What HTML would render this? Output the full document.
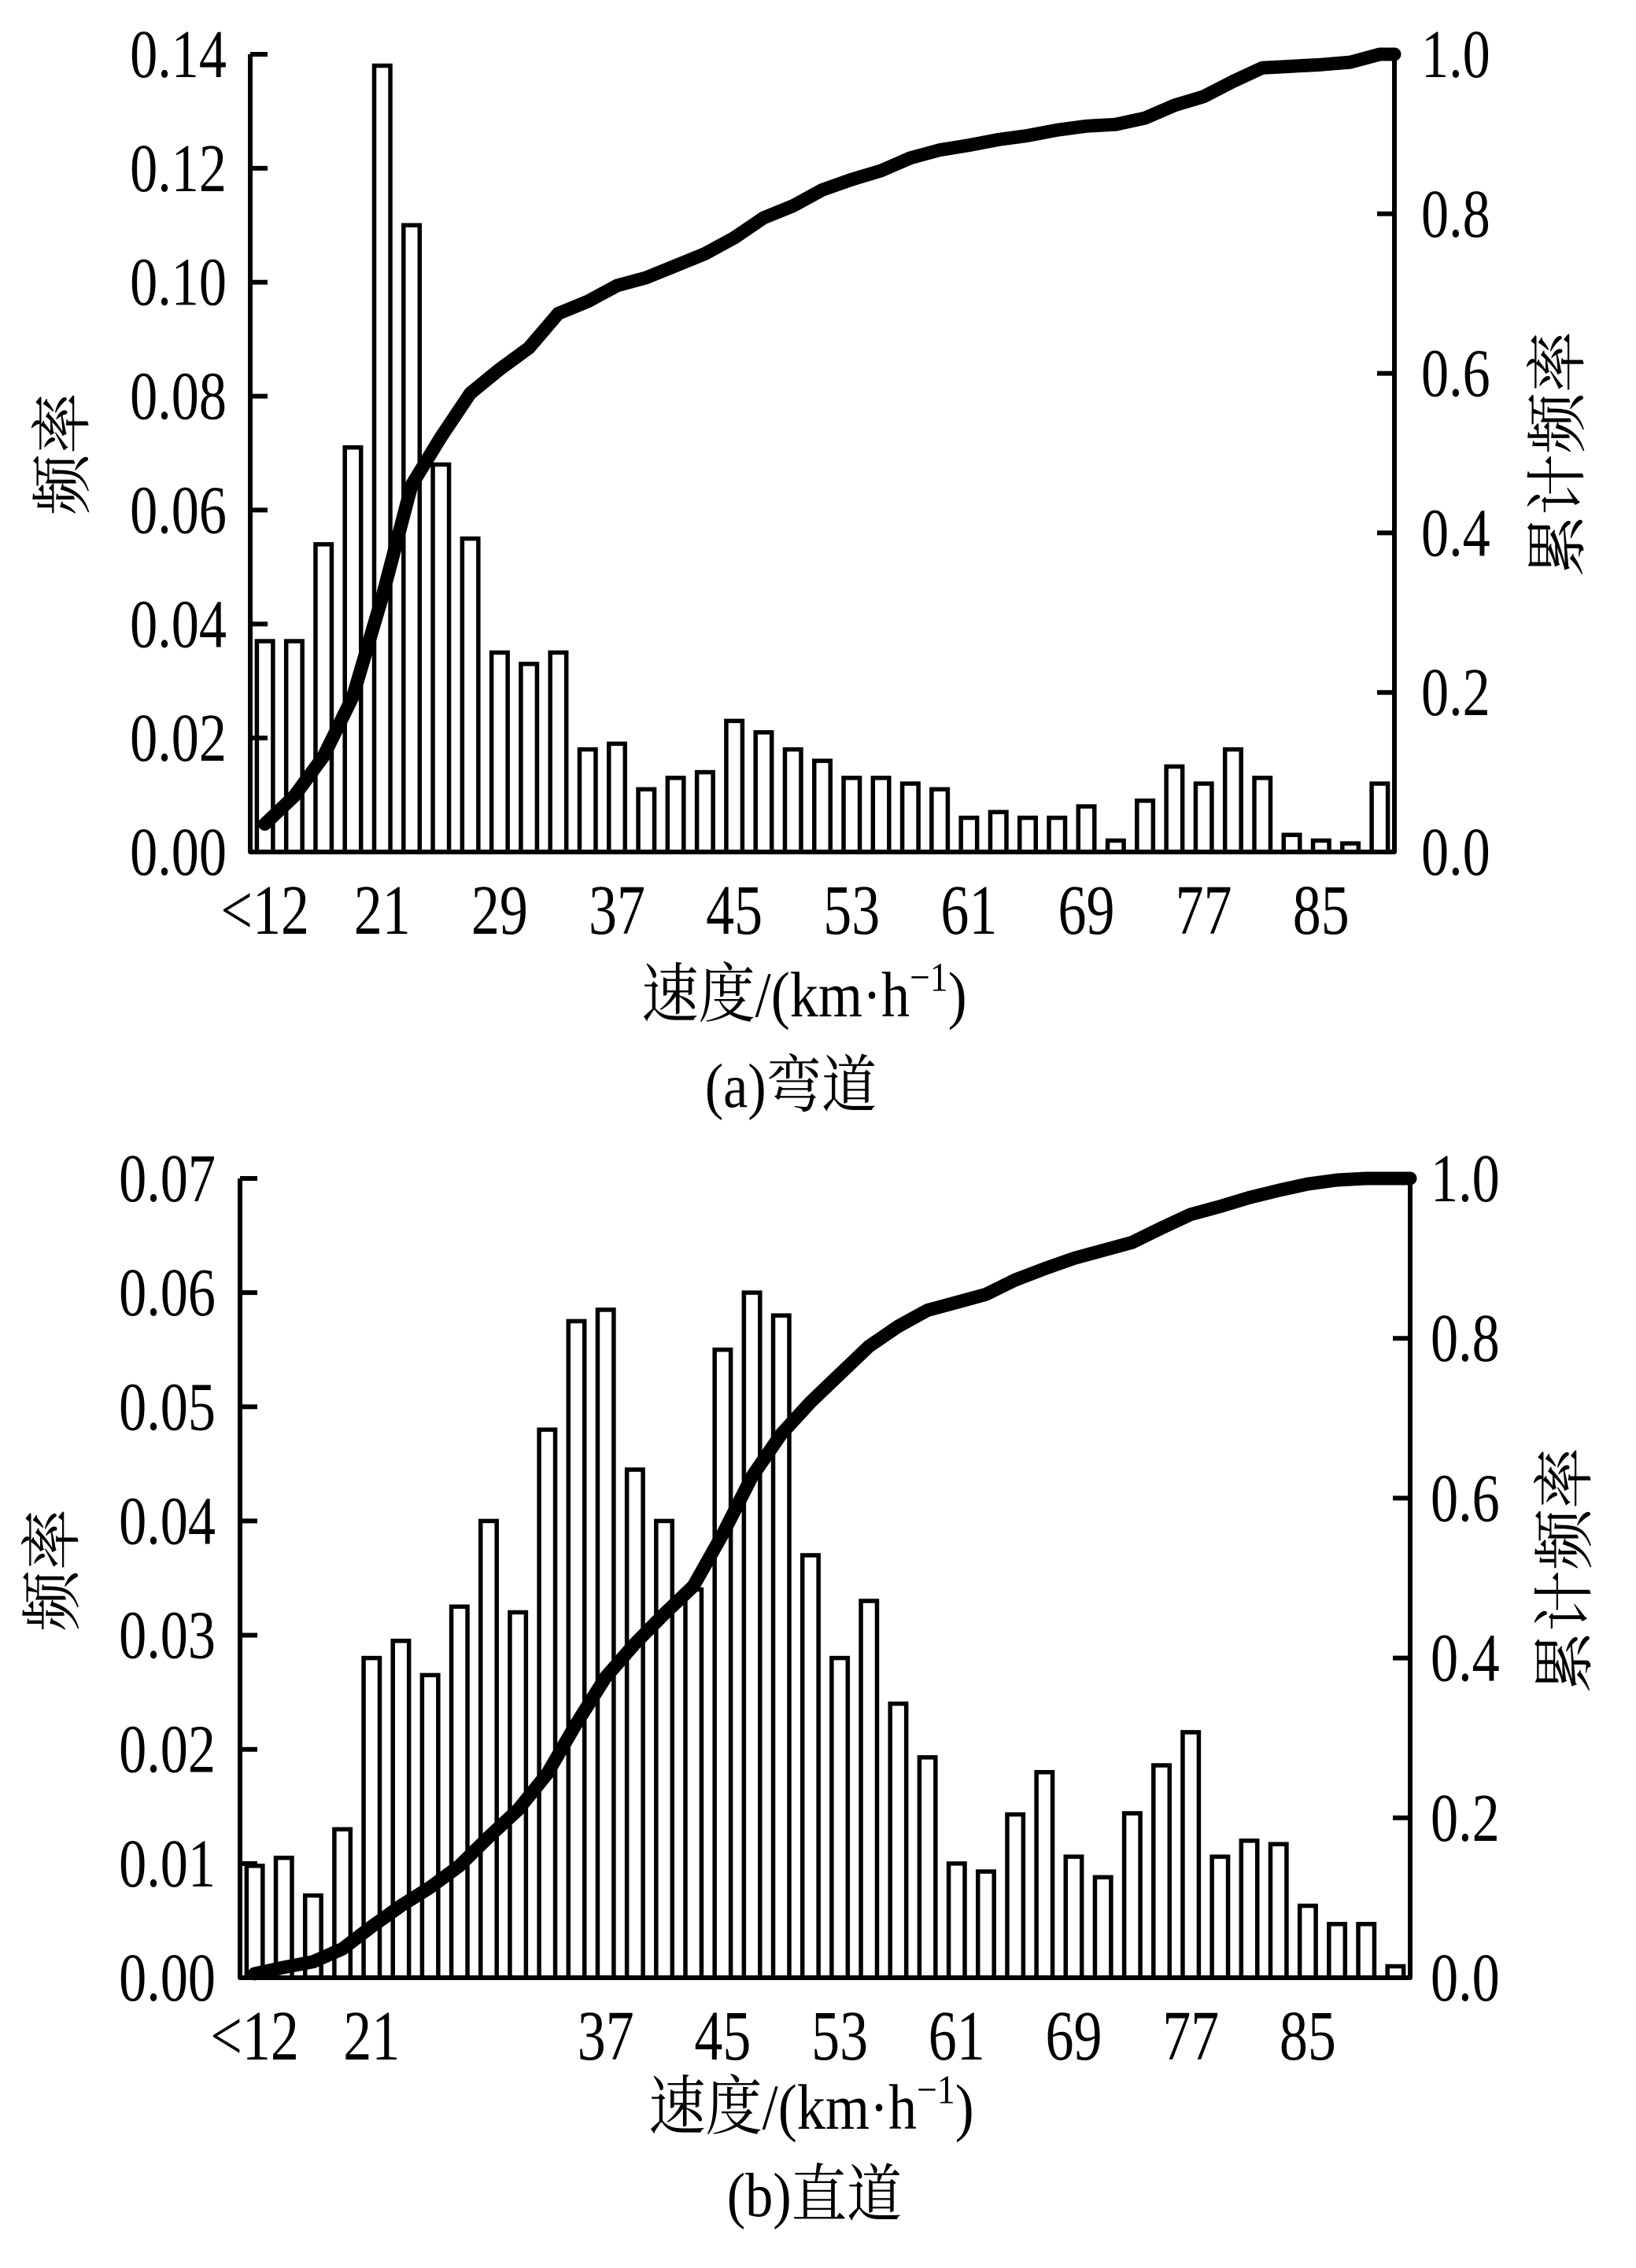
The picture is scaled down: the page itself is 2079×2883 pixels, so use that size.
<!DOCTYPE html>
<html><head><meta charset="utf-8"><style>
html,body{margin:0;padding:0;background:#fff;}
svg{display:block;}
text{font-family:"Liberation Serif","Noto Serif CJK SC","Noto Sans CJK SC",serif;fill:#000;}
</style></head><body>
<svg id="fig" width="2079" height="2883" viewBox="0 0 2079 2883" xmlns="http://www.w3.org/2000/svg"></svg>
<script>
// ---- Chart (a) curve data ----
const aFreq = [0.037,0.037,0.054,0.071,0.138,0.110,0.068,0.055,0.035,0.033,0.035,0.018,0.019,0.011,0.013,0.014,0.023,0.021,0.018,0.016,0.013,0.013,0.012,0.011,0.006,0.007,0.006,0.006,0.008,0.002,0.009,0.015,0.012,0.018,0.013,0.003,0.002,0.0015,0.012];
const aCum = [0.035,0.07,0.12,0.195,0.32,0.46,0.52,0.575,0.605,0.632,0.675,0.69,0.71,0.72,0.735,0.75,0.77,0.795,0.81,0.83,0.843,0.854,0.87,0.88,0.886,0.893,0.898,0.905,0.91,0.912,0.92,0.936,0.947,0.966,0.983,0.985,0.987,0.99,1.0];
const aXLabels = ["<12","21","29","37","45","53","61","69","77","85"];
const aLeftTicks = ["0.00","0.02","0.04","0.06","0.08","0.10","0.12","0.14"];
// ---- Chart (b) straight data ----
const bFreq = [0.0098,0.0105,0.0072,0.013,0.028,0.0295,0.0265,0.0325,0.040,0.032,0.048,0.0575,0.0585,0.0445,0.040,0.034,0.055,0.060,0.058,0.037,0.028,0.033,0.024,0.0193,0.010,0.0093,0.0143,0.018,0.0106,0.0088,0.0144,0.0186,0.0215,0.0106,0.012,0.0117,0.0063,0.0047,0.0047,0.001];
const bCum = [0.005,0.013,0.02,0.036,0.064,0.09,0.113,0.14,0.176,0.21,0.255,0.318,0.376,0.418,0.455,0.49,0.555,0.627,0.68,0.72,0.755,0.79,0.815,0.835,0.845,0.855,0.873,0.887,0.9,0.91,0.92,0.938,0.955,0.965,0.976,0.985,0.993,0.998,1.0,1.0];
const bXLabels = ["<12","21","","37","45","53","61","69","77","85"];
const bLeftTicks = ["0.00","0.01","0.02","0.03","0.04","0.05","0.06","0.07"];
const rightTicks = ["0.0","0.2","0.4","0.6","0.8","1.0"];

const NS="http://www.w3.org/2000/svg";
const svg=document.getElementById('fig');
function mk(tag,attrs,parent){const e=document.createElementNS(NS,tag);for(const k in attrs)e.setAttribute(k,attrs[k]);(parent||svg).appendChild(e);return e;}
// condensed, tall serif numerals
function numText(g,x,y,anchor,size,str){
  const t=mk('text',{x:0,y:0,'font-size':size,'text-anchor':anchor,transform:`translate(${x},${y}) scale(0.9,1.12)`},g);
  t.textContent=str;
  return t;
}

function drawChart(cfg){
  const g=mk('g',{});
  
  
  const {L,R,T,B,freq,cum,yMax,leftTicks,xLabels}=cfg;
  const n=freq.length, slot=(R-L)/n;
  const xs=i=>L+(i+0.5)*slot;
  const yL=v=>B-(v/yMax)*(B-T);
  const yR=v=>B-v*(B-T);
  freq.forEach((v,i)=>{
    const w=slot*0.55;
    const r=mk('rect',{x:xs(i)-w/2,y:yL(v),width:w,height:B-yL(v),fill:'#fff',stroke:'#000','stroke-width':5.5},g);
    
    
  });
  let d='';
  cum.forEach((v,i)=>{d+=(i?'L':'M')+xs(i).toFixed(1)+','+yR(v).toFixed(1);});
  d+='L'+R+','+yR(cum[cum.length-1]).toFixed(1);
  const p=mk('path',{d:d,fill:'none',stroke:'#000','stroke-width':17,'stroke-linejoin':'round','stroke-linecap':'round'},g);
  
  
  const ax=mk('path',{d:`M${L},${T}L${L},${B}L${R},${B}L${R},${T}`,fill:'none',stroke:'#000','stroke-width':6,'stroke-linejoin':'round'},g);
  
  
  leftTicks.forEach((t,i)=>{
    const v=i*yMax/(leftTicks.length-1), y=yL(v);
    mk('line',{x1:L,x2:L+22,y1:y,y2:y,stroke:'#000','stroke-width':6},g);
    const tx=numText(g,cfg.leftLabelX,y+29,'end',78,t);
    
    
  });
  rightTicks.forEach((t,i)=>{
    const v=i/(rightTicks.length-1), y=yR(v);
    mk('line',{x1:R,x2:R-22,y1:y,y2:y,stroke:'#000','stroke-width':6},g);
    const tx=numText(g,cfg.rightLabelX,y+29,'start',78,t);
    
    
  });
  xLabels.forEach((t,k)=>{
    if(!t) return;
    const tx=numText(g,xs(k*4),B+104,'middle',80,t);
    
    
  });
  const xt=mk('text',{x:0,y:0,'font-size':76,'text-anchor':'middle',transform:`translate(${cfg.xTitleX},${cfg.xTitleY}) scale(0.95,1.08)`},g);
  xt.innerHTML='速度/(km·h<tspan dy="-30" font-size="48">−1</tspan><tspan dy="30">)</tspan>';
  
  
  const yt=mk('text',{x:0,y:0,'font-size':78,'text-anchor':'middle',transform:`translate(${cfg.yTitleX},${cfg.yTitleY}) rotate(-90)`},g);
  yt.textContent='频率';
  
  
  const rt=mk('text',{x:0,y:0,'font-size':78,'text-anchor':'middle',transform:`translate(${cfg.rTitleX},${cfg.yTitleY}) rotate(-90)`},g);
  rt.textContent='累计频率';
  
  
  const cap=mk('text',{x:0,y:0,'font-size':74,'text-anchor':'middle',transform:`translate(${cfg.capX},${cfg.capY}) scale(0.95,1.08)`},g);
  cap.textContent=cfg.caption;
  
  
}

drawChart({name:'chart-a-curve',L:318,R:1772,T:69,B:1083,freq:aFreq,cum:aCum,yMax:0.14,leftTicks:aLeftTicks,xLabels:aXLabels,
  leftLabelX:288,rightLabelX:1806,xTitleX:1022,xTitleY:1292,yTitleX:106,yTitleY:577,rTitleX:2006,capX:1005,capY:1407,caption:'(a)弯道'});
drawChart({name:'chart-b-straight',L:305,R:1792,T:1498,B:2514,freq:bFreq,cum:bCum,yMax:0.07,leftTicks:bLeftTicks,xLabels:bXLabels,
  leftLabelX:274,rightLabelX:1818,xTitleX:1031,xTitleY:2706,yTitleX:93,yTitleY:1996,rTitleX:2015,capX:1035,capY:2817,caption:'(b)直道'});
</script>
</body></html>
